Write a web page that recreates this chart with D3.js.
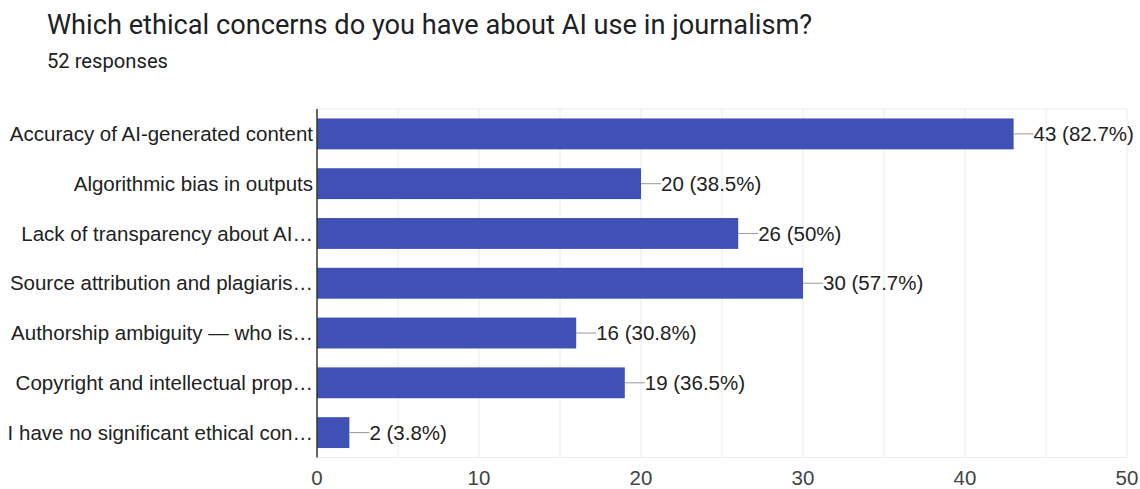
<!DOCTYPE html>
<html lang="en">
<head>
    <meta charset="UTF-8">
    <title>Which ethical concerns do you have about AI use in journalism?</title>
    <script src="https://d3js.org/d3.v7.min.js"></script>
    <style>
        body, html {
            margin: 0;
            padding: 0;
            background: #fff;
        }
        .title {
            font-family: Roboto, Arial, sans-serif;
            fill: #202124;
        }
        .chart text {
            font-family: "Liberation Sans", Arial, sans-serif;
        }
    </style>
</head>
<body>
    <script>
        const width = 1140;
        const height = 489;

        const categories = [
            "Accuracy of AI-generated content",
            "Algorithmic bias in outputs",
            "Lack of transparency about AI…",
            "Source attribution and plagiaris…",
            "Authorship ambiguity — who is…",
            "Copyright and intellectual prop…",
            "I have no significant ethical con…"
        ];
        const counts = [43, 20, 26, 30, 16, 19, 2];
        const percents = ["82.7%", "38.5%", "50%", "57.7%", "30.8%", "36.5%", "3.8%"];
        const xTicks = [0, 10, 20, 30, 40, 50];
        const gridValues = [5, 10, 15, 20, 25, 30, 35, 40, 45, 50];

        const data = categories.map((c, i) => ({ name: c, value: counts[i], pct: percents[i] }));

        const svg = d3.select("body").append("svg")
            .attr("width", width)
            .attr("height", height);

        svg.append("text")
            .attr("class", "title")
            .attr("x", 47)
            .attr("y", 34)
            .attr("font-size", 27.2)
            .text("Which ethical concerns do you have about AI use in journalism?");

        svg.append("text")
            .attr("class", "title")
            .attr("x", 47)
            .attr("y", 68)
            .attr("font-size", 20.2)
            .text("52 responses");

        const margin = { left: 317, right: 13, top: 109, bottom: 31.5 };
        const fs = 20.5;

        const x = d3.scaleLinear()
            .domain([0, 50])
            .range([margin.left, width - margin.right]);

        const y = d3.scaleBand()
            .domain(categories)
            .range([margin.top, height - margin.bottom])
            .paddingInner(0.38)
            .paddingOuter(0.19);

        const g = svg.append("g").attr("class", "chart");

        // grid
        g.append("g")
            .selectAll("line")
            .data(gridValues)
            .enter().append("line")
            .attr("x1", d => x(d))
            .attr("x2", d => x(d))
            .attr("y1", margin.top)
            .attr("y2", height - margin.bottom)
            .attr("stroke", "#ebebeb")
            .attr("stroke-width", 1);

        g.append("line")
            .attr("x1", margin.left)
            .attr("x2", width - margin.right)
            .attr("y1", margin.top)
            .attr("y2", margin.top)
            .attr("stroke", "#ebebeb");
        g.append("line")
            .attr("x1", margin.left)
            .attr("x2", width - margin.right)
            .attr("y1", height - margin.bottom)
            .attr("y2", height - margin.bottom)
            .attr("stroke", "#ebebeb");

        // bars
        g.append("g")
            .selectAll("rect")
            .data(data)
            .enter().append("rect")
            .attr("x", x(0))
            .attr("y", d => y(d.name))
            .attr("width", d => x(d.value) - x(0))
            .attr("height", y.bandwidth())
            .attr("fill", "#3f51b5");

        // connector + value labels
        const lab = g.append("g")
            .selectAll("g")
            .data(data)
            .enter().append("g")
            .attr("transform", d => `translate(${x(d.value)},${y(d.name) + y.bandwidth() / 2})`);

        lab.append("line")
            .attr("x1", 0)
            .attr("x2", 20)
            .attr("stroke", "#999")
            .attr("stroke-width", 1);

        lab.append("text")
            .attr("x", 20)
            .attr("dy", "0.35em")
            .attr("font-size", fs)
            .attr("fill", "#222")
            .text(d => `${d.value} (${d.pct})`);

        // category labels
        g.append("g")
            .selectAll("text")
            .data(data)
            .enter().append("text")
            .attr("x", margin.left - 4)
            .attr("y", d => y(d.name) + y.bandwidth() / 2)
            .attr("dy", "0.35em")
            .attr("text-anchor", "end")
            .attr("font-size", fs)
            .attr("fill", "#222")
            .text(d => d.name);

        // x axis labels
        g.append("g")
            .selectAll("text")
            .data(xTicks)
            .enter().append("text")
            .attr("x", d => x(d))
            .attr("y", 484.5)
            .attr("text-anchor", "middle")
            .attr("font-size", fs)
            .attr("fill", "#444")
            .text(d => d);

        // baseline
        g.append("line")
            .attr("x1", x(0))
            .attr("x2", x(0))
            .attr("y1", margin.top)
            .attr("y2", height - margin.bottom)
            .attr("stroke", "#333")
            .attr("stroke-width", 1.5);
    </script>
</body>
</html>
